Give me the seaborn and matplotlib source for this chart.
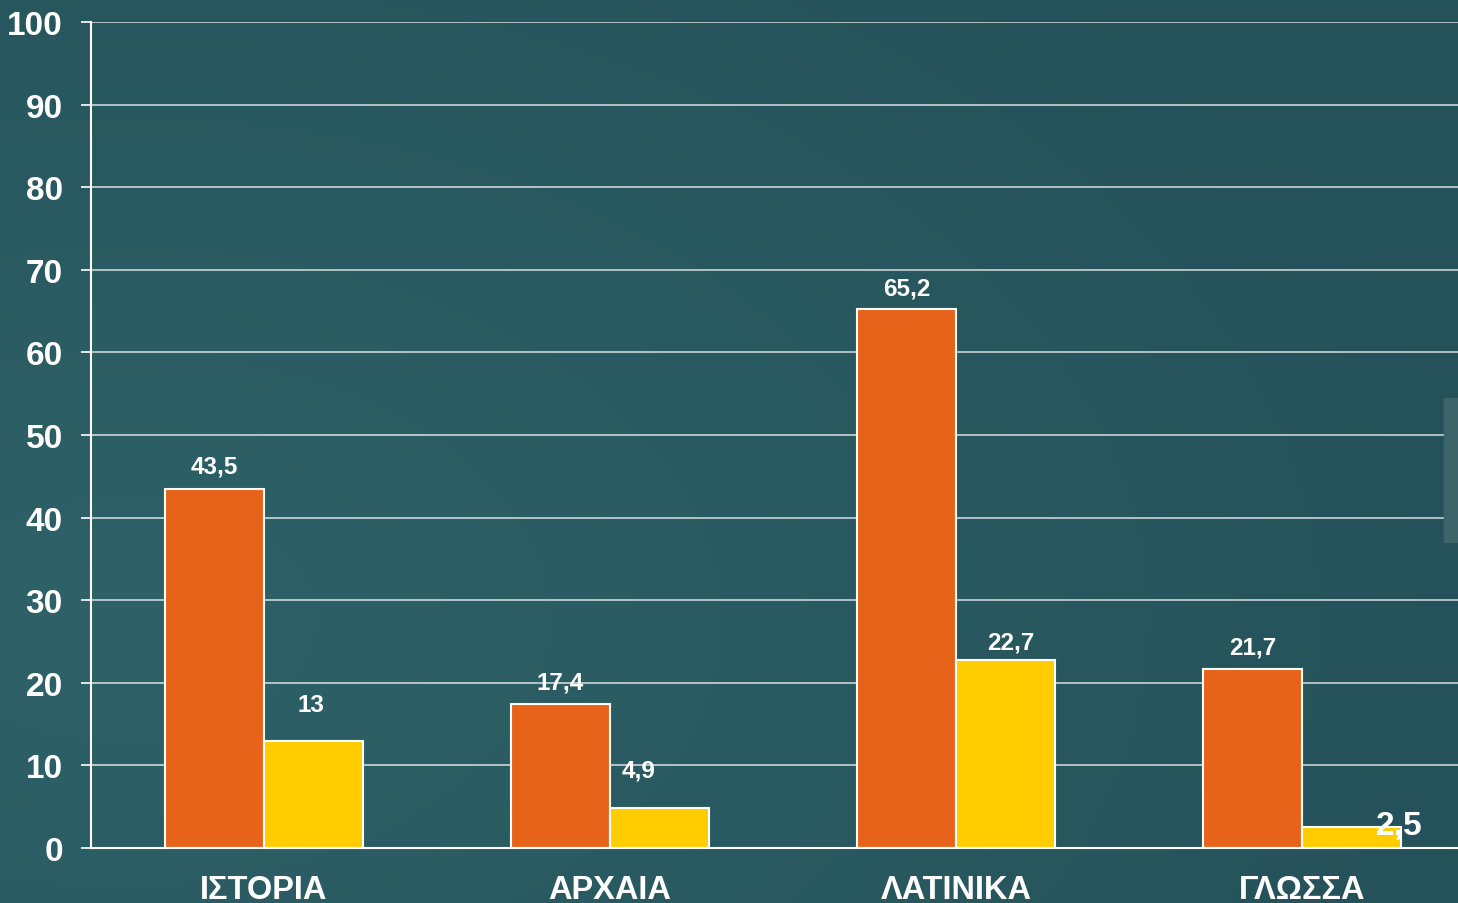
import numpy as np
import pandas as pd
import seaborn as sns
import matplotlib.pyplot as plt
from matplotlib.patches import Rectangle


#%% data
subjects = ["ΙΣΤΟΡΙΑ", "ΑΡΧΑΙΑ", "ΛΑΤΙΝΙΚΑ", "ΓΛΩΣΣΑ"]
series_names = ["σειρά 1", "σειρά 2"]
series_1 = [43.5, 17.4, 65.2, 21.7]
series_2 = [13.0, 4.9, 22.7, 2.5]
y_ticks = [0, 10, 20, 30, 40, 50, 60, 70, 80, 90, 100]

bar_colors = ["#E8631A", "#FFCC00"]

# label nudges in pixels: (dx, baseline gap above bar top), per series
label_nudge = [
    [(0, 16), (0, 16), (0, 15), (0, 15)],
    [(-3, 30), (-21, 31), (5, 12), (48, -7)],
]
PX = 0.72  # points per pixel at dpi 100


def fmt(v):
    return f"{v:g}".replace(".", ",")


def background(fig, w, h):
    """
    soft teal gradient, lighter on the left side like the slide background
    """
    yy, xx = np.mgrid[0:h, 0:w]
    d = np.sqrt(((xx - 120) / w) ** 2 + ((yy - 620) / h) ** 2)
    d = np.clip(d, 0, 1)
    light = np.array([46, 98, 104]) / 255
    dark = np.array([37, 81, 89]) / 255
    img = light[None, None, :] * (1 - d[..., None]) + dark[None, None, :] * d[..., None]
    fig.figimage(img, xo=0, yo=0, origin="upper", zorder=-10)


def bar_chart():
    df = pd.DataFrame({
        "subject": subjects * 2,
        "series": [series_names[0]] * 4 + [series_names[1]] * 4,
        "value": series_1 + series_2,
    })

    sns.set_style("white")
    plt.rcParams["font.family"] = ["Liberation Sans", "DejaVu Sans"]

    fig = plt.figure(figsize=(14.58, 9.04), dpi=100)
    background(fig, 1458, 904)
    # the category axis runs a little past the right edge of the slide
    ax = fig.add_axes([91 / 1458, 1 - 849 / 904, 1384 / 1458, (849 - 23) / 904])
    ax.set_facecolor("none")

    sns.barplot(data=df, x="subject", y="value", hue="series", order=subjects,
                hue_order=series_names, palette=bar_colors, width=0.572,
                edgecolor="white", linewidth=1.5, saturation=1, legend=False,
                ax=ax, zorder=3)

    ax.set_xlim(-0.5, 3.5)
    ax.set_ylim(0, 100)
    ax.set_yticks(y_ticks)
    ax.set_yticklabels([str(t) for t in y_ticks], fontsize=24, fontweight="bold", color="white")
    ax.set_xticks(range(len(subjects)))
    ax.set_xticklabels(subjects, fontsize=23.5, fontweight="bold", color="white")
    ax.set_xticks([-0.5, 0.5, 1.5, 2.5], minor=True)
    ax.tick_params(axis="x", which="major", length=0, pad=19)
    ax.tick_params(axis="x", which="minor", length=6, width=1, color="#cfdcdc", direction="out")
    ax.tick_params(axis="y", length=7.2, width=1.2, color="white", pad=13, direction="out", left=True)
    ax.set_xlabel("")
    ax.set_ylabel("")

    ax.grid(axis="y", color="white", linewidth=1.2, alpha=0.75, zorder=0)
    ax.set_axisbelow(True)
    for side in ["top", "right"]:
        ax.spines[side].set_visible(False)
    for side in ["left", "bottom"]:
        ax.spines[side].set_color("white")
        ax.spines[side].set_linewidth(1.5)
        ax.spines[side].set_zorder(4)

    # value labels
    for s, (container, values) in enumerate(zip(ax.containers, [series_1, series_2])):
        for i, (patch, v) in enumerate(zip(container, values)):
            cx = patch.get_x() + patch.get_width() / 2
            dx, gap = label_nudge[s][i]
            size = 24 if (s == 1 and i == 3) else 17.5
            ax.annotate(fmt(v), (cx, v), xytext=(dx * PX, gap * PX), textcoords="offset points",
                        ha="center", va="baseline", fontsize=size, fontweight="bold",
                        color="white", zorder=5)

    # small grey tab on the right edge of the slide
    fig.patches.append(Rectangle((1444 / 1458, 1 - 543 / 904), 14 / 1458, 144 / 904,
                                 transform=fig.transFigure, color="#3d6468", zorder=1))

    fig.savefig("out.png", dpi=100)


if __name__ == "__main__":
    bar_chart()
